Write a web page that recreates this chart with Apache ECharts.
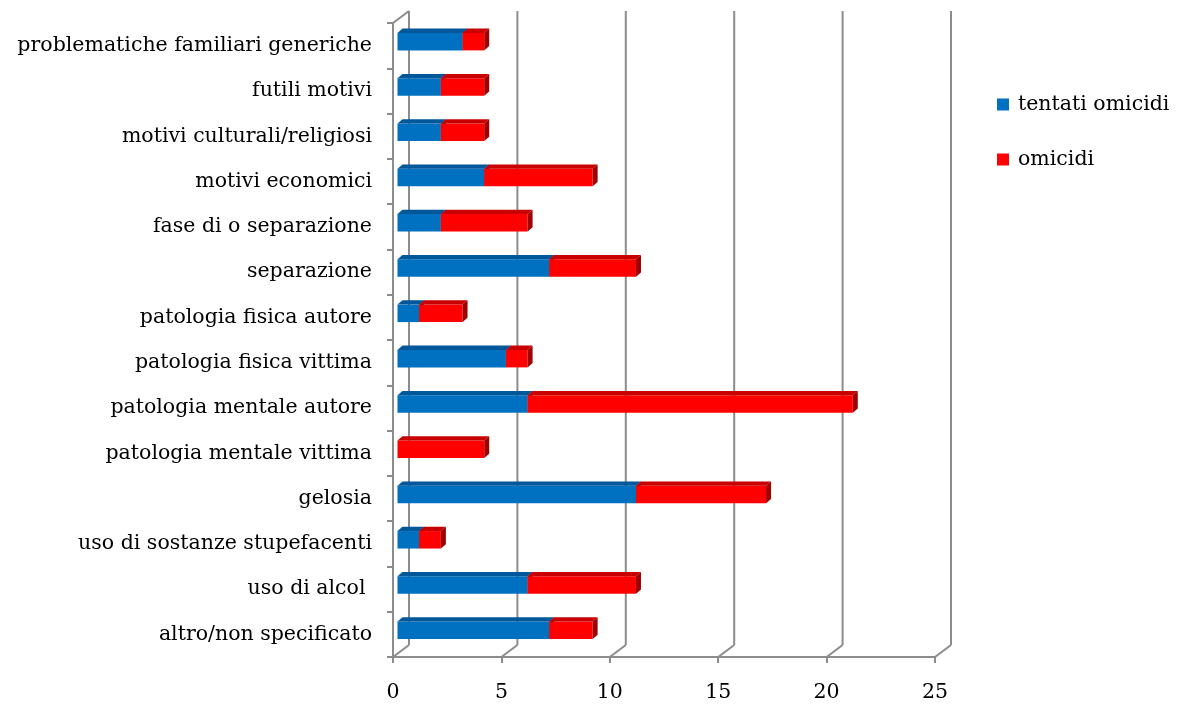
<!DOCTYPE html>
<html>
<head>
<meta charset="utf-8">
<script src="https://cdn.jsdelivr.net/npm/echarts@6/dist/echarts.min.js"></script>
<style>
  html, body { margin: 0; padding: 0; background: #fff; }
  #chart { width: 1185px; height: 704px; }
</style>
</head>
<body>
<div id="chart"></div>
<script>
"use strict";

// categories bottom -> top
const categories = [
  "altro/non specificato",
  "uso di alcol ",
  "uso di sostanze stupefacenti",
  "gelosia",
  "patologia mentale vittima",
  "patologia mentale autore",
  "patologia fisica vittima",
  "patologia fisica autore",
  "separazione",
  "fase di o separazione",
  "motivi economici",
  "motivi culturali/religiosi",
  "futili motivi",
  "problematiche familiari generiche",
];
const tentatiOmicidi = [7, 6, 1, 11, 0, 6, 5, 1, 7, 2, 4, 2, 2, 3];
const omicidi = [2, 5, 1, 6, 4, 15, 1, 2, 4, 4, 5, 2, 2, 1];
const xTicks = [0, 5, 10, 15, 20, 25];

const FONT = "DejaVu Serif";
const FONT_SIZE = 20.5;
const GRID_LINE = "#8c8c8c";

// depth of the 3D box and of the bars
const DEPTH_X = 16, DEPTH_Y = -12;
const BAR_DX = 4.5, BAR_DY = -4, BAR_H = 17.5;
const FACE_X = 5, FACE_Y = -4.3;

const chart = echarts.init(document.getElementById("chart"), null, { renderer: "canvas" });

function stacked(values, base) {
  return values.map((v, i) => [i, base[i], base[i] + v]);
}
const zeros = categories.map(() => 0);
const blueData = stacked(tentatiOmicidi, zeros);
const redData = stacked(omicidi, tentatiOmicidi);

function barRenderer(front, top, side) {
  return function (params, api) {
    const c = api.value(0), s = api.value(1), e = api.value(2);
    if (e <= s) return { type: "group", children: [] };
    const p0 = api.coord([s, c]);
    const p1 = api.coord([e, c]);
    const x0 = p0[0] + BAR_DX, x1 = p1[0] + BAR_DX;
    const yc = p0[1] + BAR_DY;
    const yt = yc - BAR_H / 2, yb = yc + BAR_H / 2;
    return {
      type: "group",
      children: [
        { type: "rect", shape: { x: x0, y: yt, width: x1 - x0, height: BAR_H }, style: { fill: front } },
        { type: "polygon", shape: { points: [[x0, yt], [x1, yt], [x1 + FACE_X, yt + FACE_Y], [x0 + FACE_X, yt + FACE_Y]] }, style: { fill: top } },
        { type: "polygon", shape: { points: [[x1, yt], [x1 + FACE_X, yt + FACE_Y], [x1 + FACE_X, yb + FACE_Y], [x1, yb]] }, style: { fill: side } },
      ],
    };
  };
}

function frameRenderer(params, api) {
  const cs = params.coordSys;
  const v = api.value(0);
  const x = api.coord([v, 0])[0];
  const bottom = cs.y + cs.height;
  const style = { stroke: GRID_LINE, lineWidth: 2 };
  const children = [
    { type: "line", shape: { x1: x, y1: bottom, x2: x + DEPTH_X, y2: bottom + DEPTH_Y }, style },
    { type: "line", shape: { x1: x + DEPTH_X, y1: bottom + DEPTH_Y, x2: x + DEPTH_X, y2: cs.y + DEPTH_Y }, style },
  ];
  if (v === 0) {
    children.push({ type: "line", shape: { x1: x, y1: cs.y, x2: x + DEPTH_X, y2: cs.y + DEPTH_Y }, style });
  }
  return { type: "group", children };
}

const option = {
  backgroundColor: "#fff",
  animation: false,
  textStyle: { fontFamily: FONT, color: "#000" },
  legend: {
    orient: "vertical",
    left: 997,
    top: 94,
    padding: 0,
    itemWidth: 12,
    itemHeight: 12,
    itemGap: 34,
    icon: "rect",
    textStyle: { fontFamily: FONT, fontSize: FONT_SIZE, color: "#000", padding: [0, 0, 0, 4] },
    data: ["tentati omicidi", "omicidi"],
  },
  grid: { left: 393, right: 250, top: 23, bottom: 47, containLabel: false },
  xAxis: {
    type: "value",
    min: 0,
    max: 25,
    interval: 5,
    axisLine: { show: true, lineStyle: { color: GRID_LINE, width: 2 } },
    axisTick: { show: true, length: 6, lineStyle: { color: GRID_LINE, width: 2 } },
    splitLine: { show: false },
    axisLabel: { margin: 25, fontSize: FONT_SIZE, fontFamily: FONT, color: "#000" },
  },
  yAxis: {
    type: "category",
    data: categories,
    axisLine: { show: true, lineStyle: { color: GRID_LINE, width: 2 } },
    axisTick: { show: true, length: 6, lineStyle: { color: GRID_LINE, width: 2 } },
    axisLabel: { margin: 21, fontSize: FONT_SIZE, fontFamily: FONT, color: "#000" },
  },
  series: [
    {
      type: "custom",
      name: "frame",
      silent: true,
      z: 1,
      renderItem: frameRenderer,
      encode: { x: 0 },
      data: xTicks.map((t) => [t]),
    },
    {
      type: "custom",
      name: "tentati omicidi",
      z: 3,
      itemStyle: { color: "#0070C0" },
      renderItem: barRenderer("#0070C0", "#00579A", "#004A85"),
      encode: { y: 0, x: [1, 2] },
      data: blueData,
    },
    {
      type: "custom",
      name: "omicidi",
      z: 4,
      itemStyle: { color: "#FF0000" },
      renderItem: barRenderer("#FF0000", "#C80000", "#A00000"),
      encode: { y: 0, x: [1, 2] },
      data: redData,
    },
  ],
};

chart.setOption(option);
</script>
</body>
</html>
